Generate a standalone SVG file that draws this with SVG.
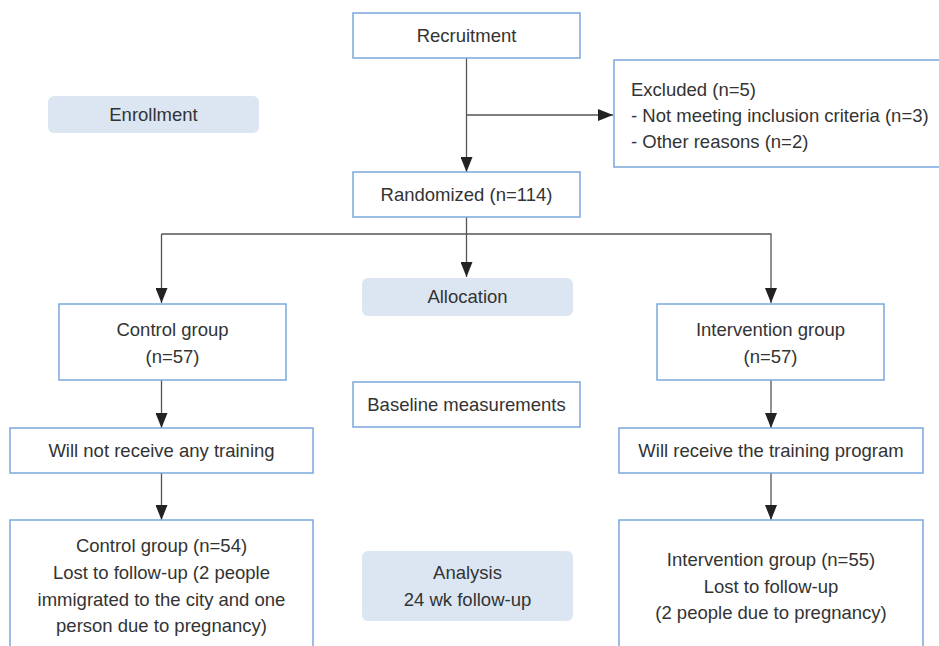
<svg xmlns="http://www.w3.org/2000/svg" width="939" height="646" viewBox="0 0 939 646">
<style>
.box{fill:#fff;stroke:#7ba7dc;stroke-width:1.5}
.stage{fill:#dce6f3;stroke:none}
.t{font-family:"Liberation Sans",Arial,sans-serif;font-size:18.5px;fill:#333;text-anchor:middle}
.tl{font-family:"Liberation Sans",Arial,sans-serif;font-size:18.5px;fill:#333}
.c{fill:none;stroke:#555;stroke-width:1.3}
</style>
<defs>
<marker id="ah" markerUnits="userSpaceOnUse" markerWidth="15" markerHeight="12" refX="15" refY="6" orient="auto" viewBox="0 0 15 12">
<path d="M0,0 L15,6 L0,12 Z" fill="#222"/>
</marker>
</defs>
<g id="connectors">
<path class="c" d="M466.5,58 V172" marker-end="url(#ah)"/>
<path class="c" d="M466.5,115 H613" marker-end="url(#ah)"/>
<path class="c" d="M466.5,217 V277" marker-end="url(#ah)"/>
<path class="c" d="M161.5,234 H771 V303" marker-end="url(#ah)"/>
<path class="c" d="M161.5,234 V303" marker-end="url(#ah)"/>
<path class="c" d="M161.5,380 V428" marker-end="url(#ah)"/>
<path class="c" d="M161.5,473 V520" marker-end="url(#ah)"/>
<path class="c" d="M771,380 V428" marker-end="url(#ah)"/>
<path class="c" d="M771,473 V520" marker-end="url(#ah)"/>
</g>
<g id="recruitment">
<rect class="box" x="353" y="13" width="227" height="45"/>
<text class="t" x="466.5" y="42">Recruitment</text>
</g>
<g id="excluded">
<rect class="box" x="614" y="60" width="340" height="107"/>
<text class="tl" x="631" y="96">Excluded (n=5)</text>
<text class="tl" x="631" y="122">- Not meeting inclusion criteria (n=3)</text>
<text class="tl" x="631" y="148">- Other reasons (n=2)</text>
</g>
<g id="enrollment">
<rect class="stage" x="48" y="96" width="211" height="37" rx="6"/>
<text class="t" x="153.5" y="121">Enrollment</text>
</g>
<g id="randomized">
<rect class="box" x="353" y="172" width="227" height="45"/>
<text class="t" x="466.5" y="201">Randomized (n=114)</text>
</g>
<g id="allocation">
<rect class="stage" x="362" y="278" width="211" height="38" rx="6"/>
<text class="t" x="467.5" y="303">Allocation</text>
</g>
<g id="control">
<rect class="box" x="59" y="304" width="227" height="76"/>
<text class="t" x="172.5" y="336">Control group</text>
<text class="t" x="172.5" y="363">(n=57)</text>
</g>
<g id="intervention">
<rect class="box" x="657" y="304" width="227" height="76"/>
<text class="t" x="770.5" y="336">Intervention group</text>
<text class="t" x="770.5" y="363">(n=57)</text>
</g>
<g id="baseline">
<rect class="box" x="353" y="382" width="227" height="45"/>
<text class="t" x="466.5" y="411">Baseline measurements</text>
</g>
<g id="no-training">
<rect class="box" x="10" y="428" width="303" height="45"/>
<text class="t" x="161.5" y="457">Will not receive any training</text>
</g>
<g id="training">
<rect class="box" x="619" y="428" width="304" height="45"/>
<text class="t" x="771" y="457">Will receive the training program</text>
</g>
<g id="control-analysis">
<rect class="box" x="10" y="520" width="303" height="140"/>
<text class="t" x="161.5" y="552">Control group (n=54)</text>
<text class="t" x="161.5" y="579">Lost to follow-up (2 people</text>
<text class="t" x="161.5" y="606">immigrated to the city and one</text>
<text class="t" x="161.5" y="632">person due to pregnancy)</text>
</g>
<g id="analysis">
<rect class="stage" x="362" y="551" width="211" height="70" rx="6"/>
<text class="t" x="467.5" y="579">Analysis</text>
<text class="t" x="467.5" y="606">24 wk follow-up</text>
</g>
<g id="intervention-analysis">
<rect class="box" x="619" y="520" width="304" height="140"/>
<text class="t" x="771" y="566">Intervention group (n=55)</text>
<text class="t" x="771" y="593">Lost to follow-up</text>
<text class="t" x="771" y="619">(2 people due to pregnancy)</text>
</g>
</svg>
